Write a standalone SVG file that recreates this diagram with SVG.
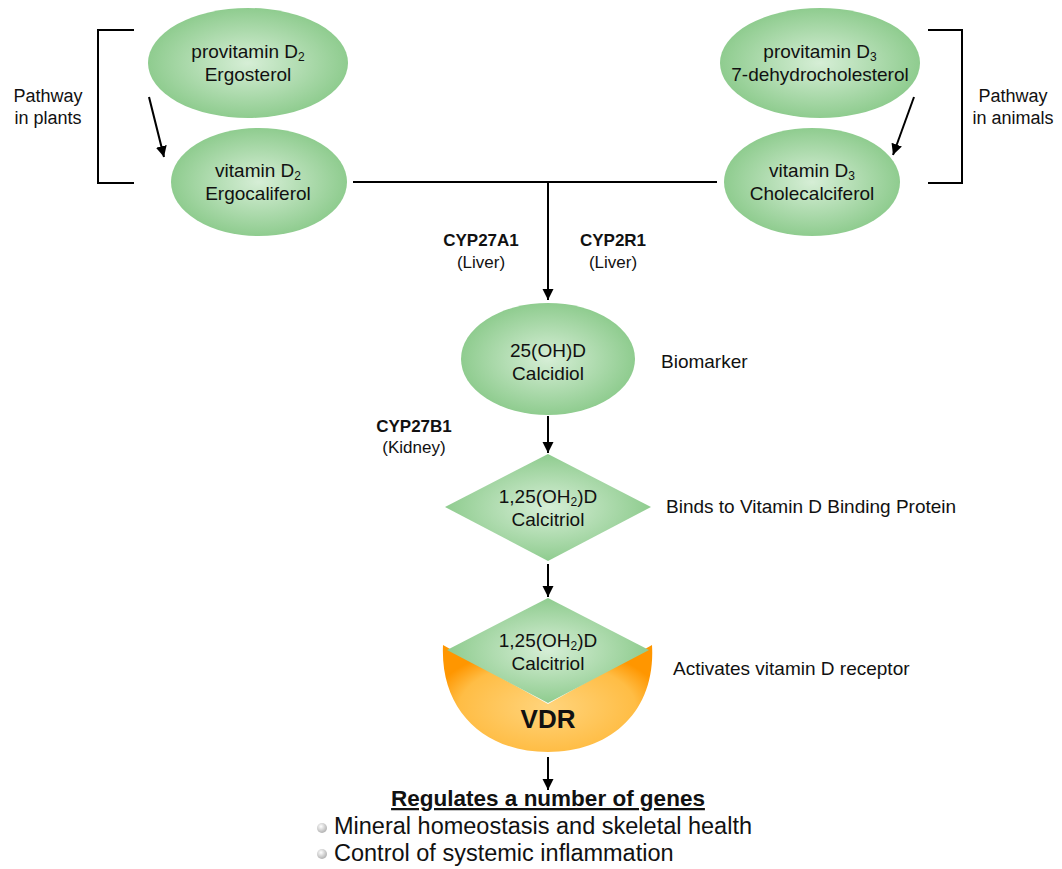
<svg xmlns="http://www.w3.org/2000/svg" width="1062" height="869" viewBox="0 0 1062 869">
<defs>
<radialGradient id="g" cx="50%" cy="50%" r="50%">
<stop offset="0" stop-color="#d6eed6"/>
<stop offset="1" stop-color="#8fcc8f"/>
</radialGradient>
<radialGradient id="o" cx="50%" cy="58%" r="56%">
<stop offset="0" stop-color="#ffd47c"/>
<stop offset="0.75" stop-color="#ffbd45"/>
<stop offset="1" stop-color="#ff9600"/>
</radialGradient>
<radialGradient id="b" cx="40%" cy="35%" r="60%">
<stop offset="0" stop-color="#ffffff"/>
<stop offset="1" stop-color="#b8b8b8"/>
</radialGradient>
<marker id="ah" viewBox="0 0 10 10" refX="10" refY="5" markerWidth="5.5" markerHeight="6" markerUnits="strokeWidth" orient="auto">
<path d="M0,0 L10,5 L0,10 Z" fill="#000"/>
</marker>
</defs>
<style>
text{font-family:"Liberation Sans",Arial,sans-serif;fill:#111;}
.n{font-size:19px;text-anchor:middle;}
.l{font-size:19px;}
.p{font-size:18px;text-anchor:middle;}
.c{font-size:17px;text-anchor:middle;}
.cb{font-size:17px;font-weight:bold;text-anchor:middle;}
.ln{stroke:#000;stroke-width:2;fill:none;}
.ar{stroke:#000;stroke-width:2;fill:none;marker-end:url(#ah);}
</style>

<g id="connectors">
<path class="ln" d="M134,30 H98 V183 H134"/>
<path class="ln" d="M928,30 H962 V183 H928"/>
<line class="ar" x1="149" y1="97" x2="164" y2="157"/>
<line class="ar" x1="914" y1="97" x2="893" y2="155"/>
<line class="ln" x1="353" y1="182" x2="717" y2="182"/>
<line class="ar" x1="548" y1="182" x2="548" y2="300"/>
<line class="ar" x1="548" y1="416" x2="548" y2="453"/>
<line class="ar" x1="548" y1="564" x2="548" y2="597"/>
<line class="ar" x1="548" y1="757" x2="548" y2="790"/>
</g>

<g id="provitaminD2">
<ellipse cx="248" cy="63" rx="100" ry="55" fill="url(#g)"/>
<text class="n" x="248" y="58">provitamin D<tspan font-size="12" dy="3">2</tspan></text>
<text class="n" x="248" y="81">Ergosterol</text>
</g>
<g id="vitaminD2">
<ellipse cx="259" cy="182" rx="88" ry="54" fill="url(#g)"/>
<text class="n" x="258" y="177">vitamin D<tspan font-size="12" dy="3">2</tspan></text>
<text class="n" x="258" y="200">Ergocaliferol</text>
</g>
<g id="provitaminD3">
<ellipse cx="820" cy="63" rx="100" ry="55" fill="url(#g)"/>
<text class="n" x="820" y="58">provitamin D<tspan font-size="12" dy="3">3</tspan></text>
<text class="n" x="820" y="81">7-dehydrocholesterol</text>
</g>
<g id="vitaminD3">
<ellipse cx="812" cy="182" rx="88" ry="54" fill="url(#g)"/>
<text class="n" x="812" y="177">vitamin D<tspan font-size="12" dy="3">3</tspan></text>
<text class="n" x="812" y="200">Cholecalciferol</text>
</g>
<g id="calcidiol">
<ellipse cx="548" cy="359" rx="87" ry="56" fill="url(#g)"/>
<text class="n" x="548" y="357">25(OH)D</text>
<text class="n" x="548" y="380">Calcidiol</text>
</g>
<g id="calcitriol">
<polygon points="548,454 651,507 548,561 445,507" fill="url(#g)"/>
<text class="n" x="548" y="503">1,25(OH<tspan font-size="12" dy="3">2</tspan><tspan dy="-3">)D</tspan></text>
<text class="n" x="548" y="526">Calcitriol</text>
</g>
<g id="vdr">
<path d="M443,645 L548,704 L652,645 C656,712 610,752 548,752 C486,752 440,712 443,645 Z" fill="url(#o)"/>
<polygon points="548,598 649,650 548,703 447,650" fill="url(#g)"/>
<text class="n" x="548" y="647">1,25(OH<tspan font-size="12" dy="3">2</tspan><tspan dy="-3">)D</tspan></text>
<text class="n" x="548" y="670">Calcitriol</text>
<text x="548" y="728" text-anchor="middle" font-size="26" font-weight="bold">VDR</text>
</g>

<g id="labels">
<text class="p" x="48" y="102">Pathway</text>
<text class="p" x="48" y="124">in plants</text>
<text class="p" x="1013" y="102">Pathway</text>
<text class="p" x="1013" y="124">in animals</text>
<text class="cb" x="481" y="246">CYP27A1</text>
<text class="c" x="481" y="268">(Liver)</text>
<text class="cb" x="613" y="246">CYP2R1</text>
<text class="c" x="613" y="268">(Liver)</text>
<text class="cb" x="414" y="432">CYP27B1</text>
<text class="c" x="414" y="453">(Kidney)</text>
<text class="l" x="661" y="368">Biomarker</text>
<text class="l" x="666" y="513">Binds to Vitamin D Binding Protein</text>
<text class="l" x="673" y="675">Activates vitamin D receptor</text>
</g>

<g id="genes">
<text x="548" y="806" text-anchor="middle" font-size="22.5" font-weight="bold" text-decoration="underline">Regulates a number of genes</text>
<circle cx="322" cy="828" r="5" fill="url(#b)"/>
<text x="334" y="834" font-size="23.5">Mineral homeostasis and skeletal health</text>
<circle cx="322" cy="854" r="5" fill="url(#b)"/>
<text x="334" y="861" font-size="23.5">Control of systemic inflammation</text>
</g>
</svg>
